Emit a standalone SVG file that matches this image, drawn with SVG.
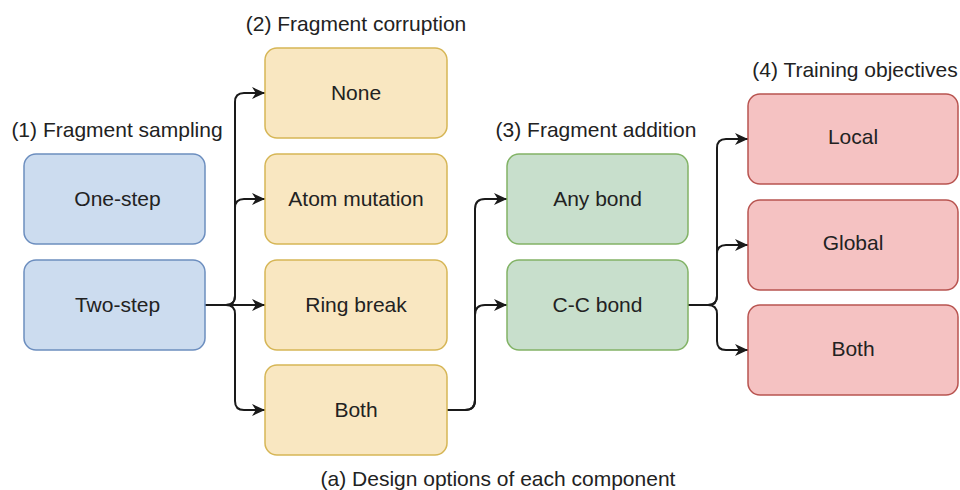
<svg xmlns="http://www.w3.org/2000/svg" width="960" height="490" viewBox="0 0 960 490">
<defs>
<marker id="arr" viewBox="0 0 13 13" refX="13" refY="6.5" markerWidth="13" markerHeight="13" markerUnits="userSpaceOnUse" orient="auto">
<path d="M0,0.5 L13,6.5 L0,12.5 L3.8,6.5 Z" fill="#1a1a1a"/>
</marker>
<style>
text{font-family:"Liberation Sans",Arial,sans-serif;font-size:21px;fill:#222;text-anchor:middle}
.blue{fill:#ccdcef;stroke:#6c8ebf;stroke-width:1.5}
.yellow{fill:#f9e7c1;stroke:#d6b656;stroke-width:1.5}
.green{fill:#c8dfcc;stroke:#82b366;stroke-width:1.5}
.red{fill:#f5c2c2;stroke:#b85450;stroke-width:1.5}
.c{fill:none;stroke:#1a1a1a;stroke-width:2;marker-end:url(#arr)}
</style>
</defs>
<rect width="960" height="490" fill="#fff"/>
<g id="labels">
<text x="117" y="137">(1) Fragment sampling</text>
<text x="356" y="31">(2) Fragment corruption</text>
<text x="596" y="137">(3) Fragment addition</text>
<text x="855" y="77">(4) Training objectives</text>
<text x="498" y="486">(a) Design options of each component</text>
</g>
<g id="connectors">
<path class="c" d="M205,305 H226 Q235,305 235,296 V102 Q235,93 244,93 H265"/>
<path class="c" d="M205,305 H226 Q235,305 235,296 V208 Q235,199 244,199 H265"/>
<path class="c" d="M205,305 H265"/>
<path class="c" d="M205,305 H226 Q235,305 235,314 V401 Q235,410 244,410 H265"/>
<path class="c" d="M447,410 H465 Q475,410 475,400 V209 Q475,199 485,199 H507"/>
<path class="c" d="M447,410 H465 Q475,410 475,400 V315 Q475,305 485,305 H507"/>
<path class="c" d="M688,305 H708 Q717,305 717,296 V148 Q717,139 726,139 H748"/>
<path class="c" d="M688,305 H708 Q717,305 717,296 V254 Q717,245 726,245 H748"/>
<path class="c" d="M688,305 H708 Q717,305 717,314 V341 Q717,350 726,350 H748"/>
</g>
<g id="one-step"><rect class="blue" x="24" y="154" width="181" height="90" rx="12"/><text x="117.5" y="206">One-step</text></g>
<g id="two-step"><rect class="blue" x="24" y="260" width="181" height="90" rx="12"/><text x="117.5" y="312">Two-step</text></g>
<g id="none"><rect class="yellow" x="265" y="48" width="182" height="90" rx="12"/><text x="356" y="100">None</text></g>
<g id="atom-mutation"><rect class="yellow" x="265" y="154" width="182" height="90" rx="12"/><text x="356" y="206">Atom mutation</text></g>
<g id="ring-break"><rect class="yellow" x="265" y="260" width="182" height="90" rx="12"/><text x="356" y="312">Ring break</text></g>
<g id="both-corruption"><rect class="yellow" x="265" y="365" width="182" height="90" rx="12"/><text x="356" y="417">Both</text></g>
<g id="any-bond"><rect class="green" x="507" y="154" width="181" height="90" rx="12"/><text x="597.5" y="206">Any bond</text></g>
<g id="cc-bond"><rect class="green" x="507" y="260" width="181" height="90" rx="12"/><text x="597.5" y="312">C-C bond</text></g>
<g id="local"><rect class="red" x="748" y="94" width="210" height="90" rx="12"/><text x="853" y="144">Local</text></g>
<g id="global"><rect class="red" x="748" y="200" width="210" height="90" rx="12"/><text x="853" y="250">Global</text></g>
<g id="both-objective"><rect class="red" x="748" y="305" width="210" height="90" rx="12"/><text x="853" y="356">Both</text></g>
</svg>
